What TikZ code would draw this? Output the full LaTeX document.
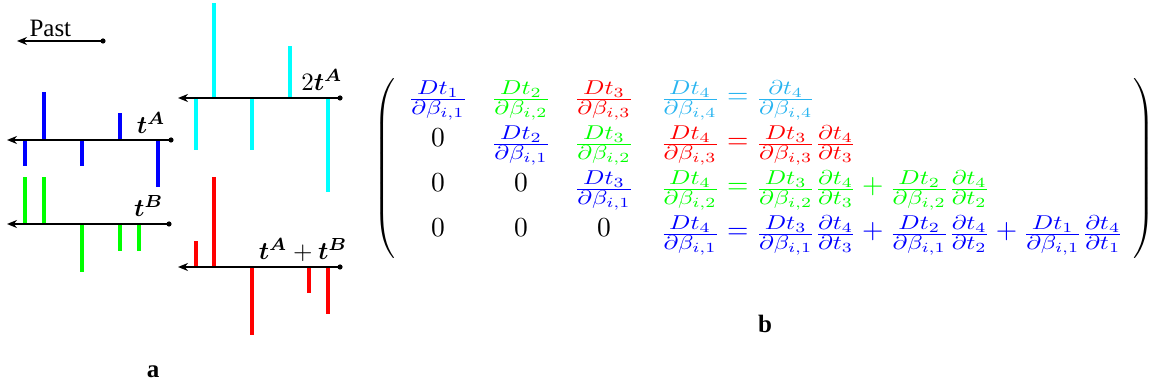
\RequirePackage{fix-cm}
\documentclass[tikz,border=0pt]{standalone}
\usepackage{amsmath,bm,graphicx}
\usepackage{fontspec}
\setmainfont{Liberation Serif}
\usetikzlibrary{arrows.meta}
\definecolor{skyc}{RGB}{40,180,240}
\definecolor{mgreen}{RGB}{0,255,0}
\definecolor{mcyan}{RGB}{0,255,255}
\newcommand{\cf}[2]{\text{\fontsize{10}{12}\selectfont\scalebox{1}[0.8]{$\frac{\displaystyle #1}{\displaystyle #2}$}}}
\newcommand{\Dfr}[2]{\cf{Dt_{#1}}{\partial\beta_{i,#2}}}
\newcommand{\Pfr}[1]{\cf{\partial t_4}{\partial t_{#1}}}
\newcommand{\oeq}{=}
\newcommand{\opl}{+}
\delimiterfactor=1000
\delimitershortfall=0pt
\begin{document}
\begin{tikzpicture}[x=0.4pt,y=-0.4pt,
  axisline/.style={line width=0.9pt,-{Stealth[length=4pt,width=3.2pt]}},
  bar/.style={line width=1.8pt},
  lbl/.style={inner sep=0pt,anchor=base east},
  ent/.style={inner sep=0pt,anchor=base,font=\fontsize{11}{13}\selectfont},
  rowe/.style={inner sep=0pt,anchor=base west,font=\fontsize{11}{13}\selectfont}]
\useasboundingbox (0,0) rectangle (1154,385);
% bars
\foreach \x/\y in {25/166,44/92,82/166,120/113,158/187} \draw[bar,blue] (\x,140) -- (\x,\y);
\foreach \x/\y in {196/150,214/3,252/150,290/46,328/192} \draw[bar,mcyan] (\x,98) -- (\x,\y);
\foreach \x/\y in {25/177,44/177,82/272,120/251,139/251} \draw[bar,mgreen] (\x,224) -- (\x,\y);
\foreach \x/\y in {196/241,214/177,252/335,309/293,328/314} \draw[bar,red] (\x,267) -- (\x,\y);
% axes
\coordinate (pP) at (103,41); \coordinate (qP) at (17,41);
\coordinate (pA) at (171,140); \coordinate (qA) at (7,140);
\coordinate (p2A) at (340,98); \coordinate (q2A) at (178,98);
\coordinate (pB) at (169,224); \coordinate (qB) at (7,224);
\coordinate (pAB) at (340,267); \coordinate (qAB) at (178,267);
\foreach \n in {P,A,2A,B,AB} {\draw[axisline] (p\n) -- (q\n); \fill (p\n) circle (2.6);}
% labels
\node[inner sep=0pt,anchor=base west] (past) at (29,37) {Past};
\node[lbl] (lA) at (166,134) {$\bm{t}^{\bm{A}}$};
\node[lbl] (l2A) at (343,91) {$2\bm{t}^{\bm{A}}$};
\node[lbl] (lB) at (164,217) {$\bm{t}^{\bm{B}}$};
\node[lbl] (lAB) at (348,260) {$\bm{t}^{\bm{A}}+\bm{t}^{\bm{B}}$};
\node[ent,font=\normalsize] (la) at (153,378) {\textbf{a}};
\node[ent,font=\normalsize] (lb) at (765,333) {\textbf{b}};
% matrix
\node[inner sep=0pt,anchor=east] (lpar) at (399,169) {$\left(\vcenter{\hbox{\rule{0pt}{67pt}}}\right.$};
\node[inner sep=0pt,anchor=west] (rpar) at (1130,169) {$\left.\vcenter{\hbox{\rule{0pt}{67pt}}}\right)$};
\node[ent,blue] (m11) at (438,104) {$\Dfr{1}{1}$};
\node[ent,mgreen] (m12) at (521,104) {$\Dfr{2}{2}$};
\node[ent,red] (m13) at (604,104) {$\Dfr{3}{3}$};
\node[rowe,skyc] (m14) at (660,104) {$\Dfr{4}{4}\oeq\cf{\partial t_4}{\partial\beta_{i,4}}$};
\node[ent] (m21) at (438,147) {$0$};
\node[ent,blue] (m22) at (521,149) {$\Dfr{2}{1}$};
\node[ent,mgreen] (m23) at (604,149) {$\Dfr{3}{2}$};
\node[rowe,red] (m24) at (660,149) {$\Dfr{4}{3}\oeq\Dfr{3}{3}\Pfr{3}$};
\node[ent] (m31) at (438,192) {$0$};
\node[ent] (m32) at (521,192) {$0$};
\node[ent,blue] (m33) at (604,194) {$\Dfr{3}{1}$};
\node[rowe,mgreen] (m34) at (660,194) {$\Dfr{4}{2}\oeq\Dfr{3}{2}\Pfr{3}\opl\Dfr{2}{2}\Pfr{2}$};
\node[ent] (m41) at (438,237) {$0$};
\node[ent] (m42) at (521,237) {$0$};
\node[ent] (m43) at (604,237) {$0$};
\node[rowe,blue] (m44) at (660,239) {$\Dfr{4}{1}\oeq\Dfr{3}{1}\Pfr{3}\opl\Dfr{2}{1}\Pfr{2}\opl\Dfr{1}{1}\Pfr{1}$};
\end{tikzpicture}
\end{document}
